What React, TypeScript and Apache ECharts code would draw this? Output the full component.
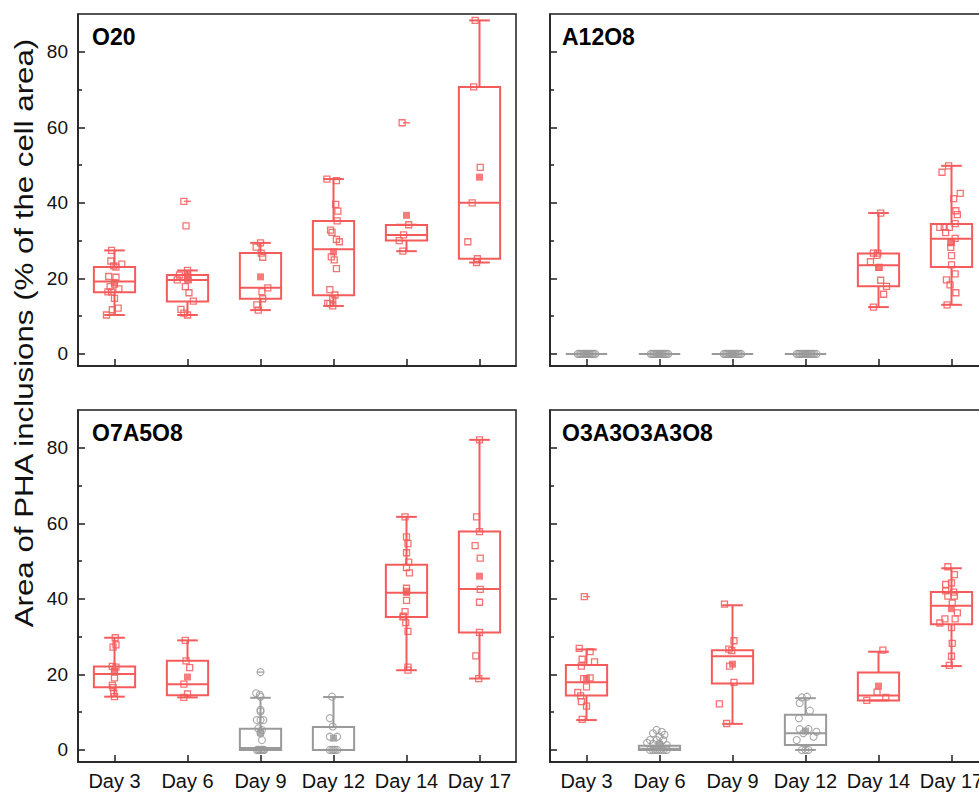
import React, { useEffect, useRef } from 'react';
import * as echarts from 'echarts';

const RED = '#F55B5B';
const GRAY = '#9A9A9A';
const INK = '#1E1E1E';
const FONT = '"Liberation Sans", Arial, Helvetica, sans-serif';

const days = ['Day 3', 'Day 6', 'Day 9', 'Day 12', 'Day 14', 'Day 17'];
const yTicks = [0, 20, 40, 60, 80];
const yMinorTicks = [10, 30, 50, 70];
const yAxisTitle = 'Area of PHA inclusions (% of the cell area)';

// ---------- O20 ----------
const o20Box = [
  [10.3, 16.3, 19.2, 23.0, 27.4],
  [10.3, 13.9, 19.6, 20.9, 22.1],
  [11.6, 14.6, 17.5, 26.7, 29.4],
  [12.7, 15.5, 27.7, 35.2, 46.3],
  [27.2, 30.0, 31.5, 34.1, 34.2],
  [24.2, 25.2, 40.0, 70.7, 88.3],
];
const o20Mean = [18.9, 19.8, 20.4, 27.0, 36.7, 46.8];
const o20Values = [
  [27.4, 24.6, 23.3, 23.8, 23.0, 20.5, 20.3, 18.5, 17.8, 17.2, 16.4, 16.4, 14.7, 12.1, 11.7, 10.3],
  [40.4, 33.9, 22.1, 20.9, 20.9, 19.6, 19.6, 17.8, 16.2, 14.0, 11.8, 10.8, 10.3],
  [29.4, 28.3, 26.7, 25.6, 17.5, 16.5, 14.6, 13.0, 11.6],
  [46.3, 45.9, 39.6, 37.8, 35.2, 32.8, 32.2, 30.3, 29.7, 25.7, 24.9, 22.6, 17.0, 15.6, 14.5, 13.4, 13.3, 12.7],
  [61.2, 34.2, 31.5, 30.0, 27.2],
  [88.3, 70.7, 49.4, 40.0, 29.7, 25.2, 24.2],
];
const o20Jitter = [
  [-0.04, -0.05, -0.01, 0.1, 0.02, -0.08, 0.02, 0, -0.06, 0.06, -0.09, -0.04, 0, 0.05, -0.03, -0.11],
  [-0.05, -0.02, 0, -0.11, 0, -0.14, 0.01, -0.03, 0.02, 0.08, -0.09, -0.05, 0],
  [0, -0.06, 0.01, 0.03, 0.1, 0.02, 0.03, -0.05, -0.03],
  [-0.09, 0.04, 0.03, 0.06, 0.05, -0.04, -0.02, 0.04, 0.08, -0.03, 0.01, 0.04, -0.05, 0.02, -0.01, -0.08, -0.05, -0.01],
  [-0.06, 0.03, -0.04, -0.1, -0.05],
  [-0.06, -0.08, 0.01, -0.1, -0.16, -0.03, -0.04],
];
const o20Outliers = [[1, 40.4], [4, 61.2]];
const o20GrayDays: number[] = [];

// ---------- A12O8 ----------
const a12Box = [
  [0, 0, 0, 0, 0],
  [0, 0, 0, 0, 0],
  [0, 0, 0, 0, 0],
  [0, 0, 0, 0, 0],
  [12.4, 17.9, 23.5, 26.6, 37.3],
  [13.0, 23.0, 30.5, 34.4, 49.8],
];
const a12Mean = [0, 0, 0, 0, 22.9, 29.6];
const a12Zeros = [0, 0, 0, 0, 0, 0, 0, 0, 0, 0, 0, 0, 0];
const a12ZeroJitter = [-0.12, -0.1, -0.08, -0.06, -0.04, -0.02, 0, 0.02, 0.04, 0.06, 0.08, 0.1, 0.12];
const a12Values = [
  a12Zeros,
  a12Zeros,
  a12Zeros,
  [...a12Zeros, 0],
  [37.3, 26.7, 26.7, 26.1, 24.4, 22.9, 19.5, 17.9, 15.8, 12.4],
  [49.8, 48.1, 42.5, 41.1, 37.9, 36.9, 34.5, 33.5, 33.5, 33.5, 32.1, 30.6, 29.5, 28.2, 26.0, 23.6, 21.2, 19.6, 18.3, 16.2, 13.0],
];
const a12Jitter = [
  a12ZeroJitter,
  a12ZeroJitter,
  a12ZeroJitter,
  [...a12ZeroJitter, 0.15],
  [0.03, -0.07, -0.01, -0.02, -0.11, 0.01, 0.03, 0.11, 0.07, -0.07],
  [-0.04, -0.13, 0.12, 0.03, 0.06, 0.08, 0.05, -0.16, -0.1, -0.03, -0.08, 0.05, -0.01, -0.01, 0, 0, 0.05, -0.07, -0.02, 0.06, -0.06],
];
const a12Outliers: number[][] = [];
const a12GrayDays = [0, 1, 2, 3];

// ---------- O7A5O8 ----------
const o7Box = [
  [14.1, 16.6, 20.1, 22.1, 29.7],
  [13.9, 14.5, 17.4, 23.6, 29.0],
  [0, 0, 0.5, 5.6, 13.8],
  [0, 0, 0, 6.1, 14.0],
  [21.1, 35.2, 41.6, 49.0, 61.7],
  [18.9, 31.1, 42.6, 57.8, 82.1],
];
const o7Mean = [20.9, 19.3, 4.6, 3.1, 41.7, 46.0];
const o7Values = [
  [29.7, 27.8, 27.2, 22.1, 21.9, 20.7, 19.1, 17.1, 16.5, 15.0, 14.1],
  [29.0, 23.6, 21.8, 17.4, 14.8, 13.9],
  [20.6, 15.0, 14.6, 14.1, 10.6, 10.2, 7.9, 7.9, 7.9, 5.7, 5.3, 4.4, 2.6, 0, 0, 0, 0, 0, 0, 0],
  [14.1, 8.4, 6.2, 3.5, 3.5, 0, 0, 0, 0, 0],
  [61.7, 56.4, 54.6, 52.2, 49.7, 48.3, 46.9, 42.8, 42.0, 39.6, 36.6, 35.4, 35.2, 33.7, 31.4, 21.9, 21.1],
  [82.1, 61.7, 57.8, 54.1, 50.8, 42.5, 39.1, 31.1, 24.9, 18.9],
];
const o7Jitter = [
  [0.01, 0.02, -0.02, -0.03, 0.02, 0, 0, -0.03, -0.02, -0.01, 0],
  [-0.03, -0.02, 0.03, -0.05, 0, -0.05],
  [0, -0.06, -0.01, 0, 0, 0, -0.05, 0, 0.04, -0.03, 0.02, 0, 0.02, -0.05, -0.03, -0.01, 0.01, 0.02, 0.04, 0.05],
  [-0.02, -0.05, -0.01, -0.05, 0.05, -0.05, -0.02, 0, 0.02, 0.05],
  [-0.02, 0, 0.02, 0, 0.03, 0, 0.04, 0, 0, 0, -0.02, -0.04, -0.05, -0.01, 0.02, 0.02, 0.02],
  [0, -0.04, 0, -0.06, 0.01, 0.01, 0, 0, -0.05, -0.01],
];
const o7Outliers = [[2, 20.6]];
const o7GrayDays = [2, 3];

// ---------- O3A3O3A3O8 ----------
const o3Box = [
  [7.9, 14.4, 17.9, 22.5, 26.6],
  [0, 0, 0.3, 1.1, 1.1],
  [6.9, 17.6, 24.8, 26.4, 38.3],
  [0, 1.3, 4.4, 9.3, 13.7],
  [13.1, 13.1, 14.4, 20.5, 26.0],
  [22.2, 33.3, 38.2, 41.8, 48.1],
];
const o3Mean = [18.9, 1.5, 22.7, 5.0, 16.9, 37.4];
const o3Values = [
  [40.6, 26.9, 26.0, 24.0, 23.3, 22.2, 19.1, 18.9, 16.7, 15.2, 14.3, 12.8, 11.6, 8.1],
  [5.3, 4.8, 4.4, 4.0, 3.5, 2.6, 2.6, 2.6, 1.9, 1.6, 1.6, 1.3, 0, 0, 0, 0, 0, 0, 0, 0],
  [38.6, 28.9, 26.7, 26.3, 22.2, 17.9, 12.2, 7.0],
  [14.1, 13.9, 12.4, 10.4, 8.4, 5.5, 5.5, 4.8, 4.4, 3.5, 2.6, 0, 0, 0],
  [26.4, 15.3, 13.9, 13.1],
  [48.5, 46.4, 44.2, 43.8, 42.1, 41.8, 40.7, 40.7, 38.9, 36.3, 34.7, 34.7, 33.6, 32.4, 28.2, 24.8, 22.4],
];
const o3Jitter = [
  [-0.03, -0.1, 0.05, -0.06, 0.11, -0.07, 0.05, -0.04, 0, -0.12, -0.08, -0.07, 0, -0.06],
  [-0.04, 0.03, -0.09, 0.07, 0, -0.13, -0.04, 0.05, -0.17, -0.09, 0, 0.1, -0.13, -0.09, -0.06, -0.03, 0, 0.03, 0.06, 0.1],
  [-0.11, 0.02, -0.05, -0.01, -0.04, 0.02, -0.18, -0.08],
  [0.02, -0.05, -0.08, 0.06, -0.09, -0.08, 0.04, 0.15, -0.03, 0.11, -0.12, -0.05, 0, 0.04],
  [0.06, -0.02, 0.1, -0.16],
  [-0.05, 0.04, 0, -0.08, -0.08, 0.03, -0.05, 0.04, 0.01, 0.08, 0.05, -0.09, -0.16, 0, 0.01, 0, -0.03],
];
const o3Outliers = [[0, 40.6]];
const o3GrayDays = [1, 3];

const panels = [
  { name: 'O20', box: o20Box, mean: o20Mean, values: o20Values, jitter: o20Jitter, outliers: o20Outliers, gray: o20GrayDays },
  { name: 'A12O8', box: a12Box, mean: a12Mean, values: a12Values, jitter: a12Jitter, outliers: a12Outliers, gray: a12GrayDays },
  { name: 'O7A5O8', box: o7Box, mean: o7Mean, values: o7Values, jitter: o7Jitter, outliers: o7Outliers, gray: o7GrayDays },
  { name: 'O3A3O3A3O8', box: o3Box, mean: o3Mean, values: o3Values, jitter: o3Jitter, outliers: o3Outliers, gray: o3GrayDays },
];

const GRID_W = 438;
const GRID_H = 352;
const gridPos = [
  { left: 78, top: 14 },
  { left: 550, top: 14 },
  { left: 78, top: 410 },
  { left: 550, top: 410 },
];
const Y_MIN = -3.2;
const Y_MAX = 90;

function buildOption() {
  const lineStyle = { color: INK, width: 1.5 };
  const grid: any[] = [];
  const xAxis: any[] = [];
  const yAxis: any[] = [];
  const series: any[] = [];
  const graphic: any[] = [];

  panels.forEach((p, g) => {
    const pos = gridPos[g];
    grid.push({
      left: pos.left, top: pos.top, width: GRID_W, height: GRID_H,
      show: true, borderColor: INK, borderWidth: 1.5, backgroundColor: 'transparent',
      containLabel: false, outerBoundsMode: 'none',
    });
    xAxis.push({
      type: 'category', gridIndex: g, data: days, boundaryGap: true,
      axisLine: { show: true, onZero: false, lineStyle },
      axisTick: { show: true, inside: true, alignWithLabel: true, length: 7, lineStyle },
      axisLabel: { show: g >= 2, interval: 0, fontSize: 20, color: '#111', margin: 9, fontFamily: FONT },
      splitLine: { show: false },
    });
    xAxis.push({
      type: 'value', gridIndex: g, min: -0.5, max: 5.5, show: false,
      axisLine: { show: false, onZero: false },
      splitLine: { show: false },
    });
    yAxis.push({
      type: 'value', gridIndex: g, min: Y_MIN, max: Y_MAX,
      axisLine: { show: true, onZero: false, lineStyle },
      axisTick: { show: true, inside: true, length: 7, customValues: yTicks, lineStyle },
      axisLabel: { show: g % 2 === 0, customValues: yTicks, fontSize: 19, color: '#111', margin: 10, fontFamily: FONT },
      splitLine: { show: false },
    });
    yAxis.push({
      type: 'value', gridIndex: g, min: Y_MIN, max: Y_MAX, position: 'left', offset: 0,
      axisLine: { show: false, onZero: false },
      axisTick: { show: true, inside: true, length: 4, customValues: yMinorTicks, lineStyle },
      axisLabel: { show: false },
      splitLine: { show: false },
    });

    const isGray = (i: number) => p.gray.indexOf(i) >= 0;

    series.push({
      type: 'custom', xAxisIndex: 2 * g, yAxisIndex: 2 * g, silent: true, z: 2,
      encode: { x: 0, y: [1, 2, 3, 4, 5] },
      data: p.box.map((b, i) => [i, b[0], b[1], b[2], b[3], b[4], isGray(i) ? 1 : 0]),
      renderItem: (params: any, api: any) => {
        const i = api.value(0);
        const mn = api.value(1), q1 = api.value(2), md = api.value(3), q3 = api.value(4), mx = api.value(5);
        const color = api.value(6) ? GRAY : RED;
        const cx = api.coord([i, md])[0];
        const y = (v: number) => api.coord([i, v])[1];
        const bw = api.size([1, 0])[0] * 0.565;
        const cw = bw / 2;
        const st = { stroke: color, lineWidth: 2, fill: 'transparent' };
        return {
          type: 'group',
          children: [
            { type: 'line', shape: { x1: cx, y1: y(q3), x2: cx, y2: y(mx) }, style: st },
            { type: 'line', shape: { x1: cx, y1: y(q1), x2: cx, y2: y(mn) }, style: st },
            { type: 'line', shape: { x1: cx - cw / 2, y1: y(mx), x2: cx + cw / 2, y2: y(mx) }, style: st },
            { type: 'line', shape: { x1: cx - cw / 2, y1: y(mn), x2: cx + cw / 2, y2: y(mn) }, style: st },
            { type: 'rect', shape: { x: cx - bw / 2, y: y(q3), width: bw, height: y(q1) - y(q3) }, style: st },
            { type: 'line', shape: { x1: cx - bw / 2, y1: y(md), x2: cx + bw / 2, y2: y(md) }, style: st },
          ],
        };
      },
    });

    const pts: any[] = [];
    p.values.forEach((vals, i) => {
      vals.forEach((v, k) => {
        const gray = isGray(i);
        pts.push({
          value: [i + p.jitter[i][k], v],
          symbol: gray ? 'circle' : 'rect',
          symbolSize: gray ? 7 : 6,
          itemStyle: {
            color: 'rgba(255,255,255,0)',
            borderColor: gray ? GRAY : RED,
            borderWidth: gray ? 1.1 : 1.3,
            opacity: 0.85,
          },
        });
      });
    });
    series.push({
      type: 'scatter', xAxisIndex: 2 * g + 1, yAxisIndex: 2 * g, silent: true, z: 3,
      data: pts,
    });

    series.push({
      type: 'scatter', xAxisIndex: 2 * g, yAxisIndex: 2 * g, silent: true, z: 4,
      symbol: 'rect', symbolSize: 7,
      data: p.mean.map((m, i) => ({ value: [i, m], itemStyle: { color: isGray(i) ? GRAY : RED } })),
    });

    series.push({
      type: 'scatter', xAxisIndex: 2 * g, yAxisIndex: 2 * g, silent: true, z: 4,
      symbol: 'rect', symbolSize: [7, 1.5],
      data: p.outliers.map((o) => ({ value: [o[0], o[1]], itemStyle: { color: isGray(o[0]) ? GRAY : RED } })),
    });

    graphic.push({
      type: 'text',
      x: pos.left + (g % 2 === 0 ? 14 : 12),
      y: pos.top + 23,
      style: {
        text: p.name, font: `bold 23px ${FONT}`, fill: '#000',
        align: 'left', verticalAlign: 'middle', textAlign: 'left', textVerticalAlign: 'middle',
      },
    });
  });

  graphic.push({
    type: 'text', x: 24, y: 333, rotation: Math.PI / 2, scaleX: 1.25, scaleY: 1,
    style: {
      text: yAxisTitle, font: `25px ${FONT}`, fill: '#111',
      align: 'center', verticalAlign: 'middle', textAlign: 'center', textVerticalAlign: 'middle',
    },
  });

  return { animation: false, backgroundColor: '#fff', grid, xAxis, yAxis, series, graphic };
}

export default function App() {
  const ref = useRef<HTMLDivElement>(null);
  useEffect(() => {
    if (!ref.current) return;
    const chart = echarts.init(ref.current, null, { renderer: 'svg' });
    chart.setOption(buildOption() as any);
    return () => chart.dispose();
  }, []);
  return (
    <div style={{ position: 'fixed', left: 0, top: 0, width: 979, height: 792, overflow: 'hidden', background: '#fff' }}>
      <div ref={ref} style={{ width: 1000, height: 792 }} />
    </div>
  );
}
